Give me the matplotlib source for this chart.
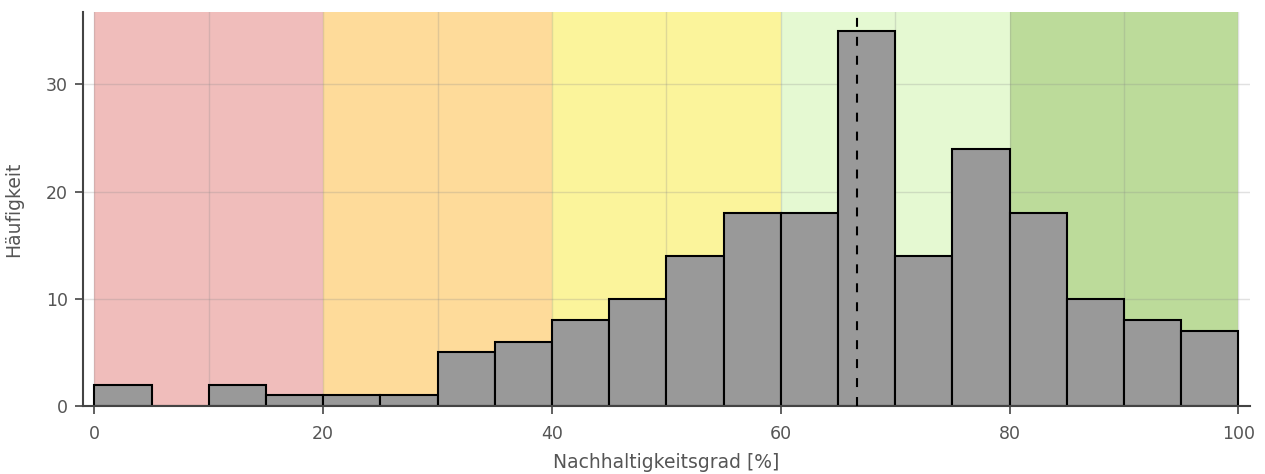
import numpy as np
import matplotlib
matplotlib.use('Agg')
from matplotlib import pyplot as plt
from matplotlib.ticker import MultipleLocator

# histogram counts per 5%-bin
binEdges = list(range(0, 105, 5))
counts = [2, 0, 2, 1, 1, 1, 5, 6, 8, 10, 14, 18, 18, 35, 14, 24, 18, 10, 8, 7]
medianVal = 66.7

# coloured background bands
bandEdges = [0, 20, 40, 60, 80, 100]
bandColors = ['#f0bdbb', '#fedb9a', '#fbf49b', '#e5f9d2', '#bcdb9a']

plt.rcParams['font.family'] = ['DejaVu Sans']
textCol = '#555555'
spineCol = '#444444'

fig = plt.figure(figsize=(12.65, 4.74), dpi=100)
ax = fig.add_axes([0.0656, 0.1435, 0.9224, 0.831])

for i in range(len(bandColors)):
    ax.axvspan(bandEdges[i], bandEdges[i + 1], color=bandColors[i], lw=0, zorder=0)

ax.bar(binEdges[:-1], counts, width=5, align='edge', color='#999999',
       edgecolor='black', lw=1.5, zorder=2)
ax.axvline(medianVal, color='black', ls=(0, (4.3, 4.8)), lw=1.5, zorder=3)

ax.set_xlim(-1, 101)
ax.set_ylim(0, 36.75)
ax.xaxis.set_major_locator(MultipleLocator(20))
ax.xaxis.set_minor_locator(MultipleLocator(10))
ax.yaxis.set_major_locator(MultipleLocator(10))
ax.set_axisbelow(True)
ax.grid(which='both', color='#888888', alpha=0.25, lw=1)
ax.tick_params(which='minor', length=0)
ax.tick_params(which='major', colors=spineCol, labelcolor=textCol, labelsize=12.5,
               length=6, width=1.2)
ax.tick_params(axis='x', which='major', pad=8)
ax.tick_params(axis='y', which='major', pad=5)

for s in ['top', 'right']:
    ax.spines[s].set_visible(False)
for s in ['left', 'bottom']:
    ax.spines[s].set_color(spineCol)
    ax.spines[s].set_linewidth(1.5)

ax.set_xlabel('Nachhaltigkeitsgrad [%]', fontsize=13.5, color=textCol, labelpad=7)
ax.set_ylabel('Häufigkeit', fontsize=13.5, color=textCol, labelpad=16)

fig.savefig('out.png', dpi=100)
